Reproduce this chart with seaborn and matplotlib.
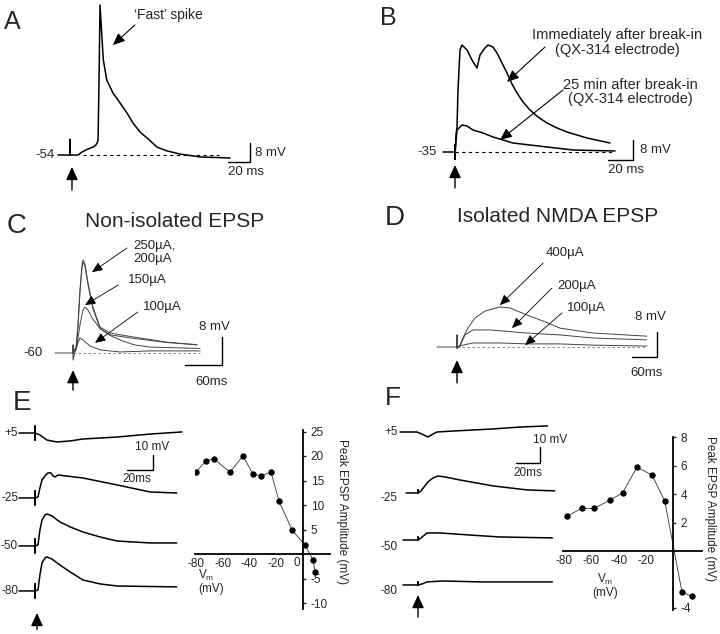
import matplotlib
matplotlib.use("Agg")
import matplotlib.pyplot as plt
import seaborn as sns

# ------------------------------------------------------------------
# Data: time (ms) and voltage (mV) relative to baseline
# A - fast spike
a_t = [-11, 0, 0, 0, 7.3, 10.9, 16.4, 20.9, 23.6, 25, 25.5, 26.4, 27.3, 28.8, 30.3, 33.4,
       39.1, 45.5, 51.8, 57.3, 63.6, 70, 79.1, 88.2, 100, 118, 145.5]
a_v = [0, 0, 6.5, 0, 0, 1.25, 2.5, 3.3, 4.2, 5.4, 6.3, 31.3, 62.5, 50.8, 39.6, 31.3,
       25.8, 21.7, 17.5, 13.3, 9.6, 7.1, 3.3, 1.7, 0.4, -0.8, -1.25]

# B - QX-314, immediately after and 25 min after break-in
b_now_t = [-9.6, 0, 0, 0, 0.8, 1.6, 2.4, 4, 5.6, 9.6, 13.6, 17.6, 20, 24, 26.4, 30.4, 33.6,
           37.6, 41.6, 45.6, 49.6, 54.4, 60, 66.4, 73.6, 81.6, 89.6, 105.6, 124]
b_now_v = [0, 0, 3, -3, 6.8, 10, 24.8, 40.8, 42.8, 40.8, 36.8, 33.6, 38.8, 41.6, 42.8, 42, 39.6,
           35.6, 31.6, 27.2, 23.6, 20, 16.8, 14, 11.6, 9.6, 8, 5.6, 3.6]
b_25_t = [0, 1.6, 5.6, 9.6, 14.4, 22.4, 30.4, 38.4, 46.4, 60, 73.6, 94.4, 128]
b_25_v = [0, 8.8, 10.8, 10.4, 8.8, 7.6, 6, 4.8, 3.6, 2.8, 2, 0.8, 0.4]

# C - non-isolated EPSP
c250_t = [-29.2, 0, 0, 0, 4.9, 8.1, 11.3, 14.6, 16.2, 19.4, 24.3, 32.4, 43.8, 60, 97.2, 152, 201]
c250_v = [0, 0, 2.3, -2, 1.4, 8, 18, 25.1, 26.6, 25.4, 20, 13.1, 7.4, 5.7, 4.6, 3.1, 2.3]
c200_t = [0, 4.9, 8.1, 11.3, 14.6, 16.2, 19.4, 24.3, 32.4, 43.8, 60, 97.2, 152, 201]
c200_v = [0, 1.3, 7.6, 17.3, 24.4, 25.9, 24.8, 19.6, 12.6, 7, 5.2, 4.2, 3.0, 2.4]
c150_t = [0, 6.5, 11.3, 16.2, 19.4, 24.3, 30.8, 43.8, 60, 81, 100, 125, 206]
c150_v = [0, 2.3, 8, 12.3, 13.1, 12.3, 10, 7.0, 5.0, 3.4, 2.3, 1.7, 1.3]
c100_t = [0, 4.9, 8.1, 11.3, 16.2, 27.5, 43.8, 76, 125, 206]
c100_v = [0, 0.9, 2.9, 4.3, 3.7, 2, 0.9, 0.3, 0.6, 0.6]

# D - isolated NMDA EPSP
d400_t = [-47.6, 0, 0, 0, 7, 14, 26, 43, 67, 102, 126, 167, 210, 245, 324, 452]
d400_v = [0, 0, 3.9, -0.6, 0.6, 2.9, 6.1, 9.4, 11.6, 12.9, 12.6, 10.3, 8.1, 6.1, 4.5, 3.5]
d200_t = [0, 7, 19, 38, 79, 167, 245, 324, 452]
d200_v = [0, 0.3, 3.9, 5.5, 5.5, 4.5, 3.9, 2.9, 2.3]
d100_t = [0, 14, 38, 102, 167, 245, 324, 452]
d100_v = [0, 0.6, 1.3, 1.3, 1.0, 1.0, 0.6, 0.3]

# E - non-isolated EPSP at different holding potentials
e_rows = ["+5", "-25", "-50", "-80"]
e_t = [
    [-12.3, 0, 0, 0, 0, 3.8, 9.2, 16.9, 26.9, 36.9, 63, 88.5, 113],
    [-12.3, 0, 0, 0, 0, 2.3, 3.8, 5.4, 7.7, 10, 12.3, 13.8, 15.4, 17.7, 36.9, 63, 88.5, 109],
    [-12.3, 0, 0, 0, 0, 2.3, 3.8, 5.4, 7.7, 9.2, 13, 19.2, 27, 36.9, 50, 63, 88.5, 109],
    [-12.3, 0, 0, 0, 0, 2.3, 3.8, 5.4, 7.7, 9.2, 13, 19.2, 27, 36.9, 50, 63, 109],
]
e_v = [
    [0, 0, 4.7, -4.7, 0, -1.3, -4.7, -6, -5.3, -4, -2.7, -0.7, 0.7],
    [0, 0, 4.7, -4.7, 0, 0.7, 6.7, 12, 14.7, 16.7, 16.7, 14.7, 14, 15.3, 13.3, 8.7, 4, 3.3],
    [0, 0, 4.7, -4.7, 0, 0.7, 10.7, 17.3, 20.7, 21.3, 20, 16, 12.7, 9.3, 6, 3.3, 2, 2],
    [0, 0, 4.7, -4.7, 0, 0.7, 10.7, 18.7, 22, 22.7, 21.3, 17.3, 12.7, 7.3, 4.7, 3.3, 2.7],
]
e_iv_vm = [-80, -72.4, -66.4, -54.5, -44.8, -37.3, -31.3, -23.9, -17.9, -8.2, 1.5, 7.5, 9]
e_iv_amp = [16.7, 19.0, 19.4, 16.7, 20.0, 16.3, 15.9, 16.7, 10.8, 4.9, 1.8, -1.2, -3.7]

# F - isolated NMDA EPSP at different holding potentials
f_rows = ["+5", "-25", "-50", "-80"]
f_t = [
    [-15, -0.8, 3.3, 8.3, 12.5, 15.8, 29, 62.5, 85, 108],
    [-10, 0, 0, 0, 2.5, 8.3, 12.5, 16.7, 22.5, 35, 62.5, 90.8, 114],
    [-12.5, 0, 0, 0, 2.5, 7.5, 18.3, 43.3, 68, 112],
    [-12.5, 0, 0, 0, 3.3, 7.5, 20.8, 51.7, 112],
]
f_v = [
    [0, 0, -1.3, -3.1, -1.3, 0, 0.6, 1.9, 3.1, 3.8],
    [0, 0, 1.9, 0, 1.3, 6.9, 9.4, 10.6, 10, 8.1, 4.4, 1.9, 1.3],
    [0, 0, 1.9, 0, 1.3, 4.4, 4.4, 3.1, 1.9, 1.3],
    [0, 0, 1.9, 0, 0.6, 1.9, 2.5, 1.9, 1.9],
]
f_iv_vm = [-78, -67, -58, -46, -37, -26.5, -15.4, -6, 6.6, 14]
f_iv_amp = [2.46, 3.0, 3.0, 3.6, 4.1, 5.9, 5.35, 3.5, -2.9, -3.2]

# ------------------------------------------------------------------
sns.set_style("white")
plt.rcParams["font.family"] = ["Liberation Sans", "DejaVu Sans"]
plt.rcParams["axes.unicode_minus"] = False
plt.rcParams["mathtext.fontset"] = "custom"
plt.rcParams["mathtext.rm"] = "Liberation Sans"

W, H = 720, 634
fig = plt.figure(figsize=(W / 100, H / 100), dpi=100)


def fig_text(x, y, s, **kw):
    fig.text(x / W, 1 - y / H, s, **kw)


def trace_axes(ox, oy, sx, sy):
    # transparent axes over the whole figure, stim at (ox, oy) px, sx px/ms, sy px/mV
    ax = fig.add_axes([0, 0, 1, 1], facecolor="none")
    ax.set_xlim(-ox / sx, (W - ox) / sx)
    ax.set_ylim((oy - H) / sy, oy / sy)
    ax.axis("off")
    return ax


def trace(ax, t, v, dv=0, color="black", lw=1.0):
    sns.lineplot(x=t, y=[y + dv for y in v], sort=False, estimator=None,
                 color=color, lw=lw, ax=ax)


def scalebar(ax, x, y, dx, dy, lw=1.0):
    ax.plot([x - dx, x, x], [y, y, y + dy], color="black", lw=lw, solid_joinstyle="miter")


def arrow(ax, tail, head, lw=0.7, scale=9, hl=0.8, hw=0.35):
    ax.annotate("", xy=head, xytext=tail,
                arrowprops=dict(arrowstyle=f"-|>,head_length={hl},head_width={hw}",
                                color="black", lw=lw, shrinkA=0, shrinkB=0,
                                mutation_scale=scale))


def stim_arrow(ax, t, v0, v1):
    arrow(ax, (t, v0), (t, v1), lw=1.0, scale=12, hl=0.65, hw=0.3)


def baseline(ax, t0, t1, color="black", lw=0.8):
    ax.plot([t0, t1], [0, 0], color=color, lw=lw, ls=(0, (3, 3)))


fs_lab = 9.5

# ---------------- A ----------------
fig_text(4, 29, "A", fontsize=18, va="baseline")
ax = trace_axes(70, 155, 1.1, 2.4)
baseline(ax, 12, 135)
trace(ax, a_t, a_v, lw=1.1)
ax.text(-13.6, 0, "-54", ha="right", va="center", fontsize=fs_lab)
ax.text(89, 58.3, "\u2018Fast\u2019 spike", ha="center", va="center", fontsize=10)
arrow(ax, (59, 54.2), (39, 45.8), lw=0.8)
stim_arrow(ax, 1.8, -14.6, -5)
scalebar(ax, 164, -3, 20, 8)
ax.text(168, 0.8, "8 mV", ha="left", va="center", fontsize=fs_lab)
ax.text(143.6, -7.1, "20 ms", ha="left", va="center", fontsize=fs_lab)

# ---------------- B ----------------
fig_text(380, 25, "B", fontsize=18, va="baseline")
ax = trace_axes(455, 152, 1.25, 2.5)
baseline(ax, 0, 128)
trace(ax, b_now_t, b_now_v, lw=1.1)
trace(ax, b_25_t, b_25_v, lw=1.1)
ax.text(-14.4, 0, "-35", ha="right", va="center", fontsize=fs_lab)
ax.text(130, 43.8, "Immediately after break-in\n(QX-314 electrode)", ha="center",
        va="center", fontsize=10.5, linespacing=1.05)
ax.text(140, 24, "25 min after break-in\n(QX-314 electrode)", ha="center",
        va="center", fontsize=10.5, linespacing=1.05)
arrow(ax, (72, 42), (41.6, 28), lw=0.8)
arrow(ax, (86.4, 24.8), (36, 4.8), lw=0.8)
stim_arrow(ax, 0, -14.4, -5.2)
scalebar(ax, 142.4, -3.2, 20, 8)
ax.text(148, 0.8, "8 mV", ha="left", va="center", fontsize=fs_lab)
ax.text(122.4, -7.2, "20 ms", ha="left", va="center", fontsize=fs_lab)

# ---------------- C ----------------
fig_text(7, 233, "C", fontsize=20, va="baseline")
fig_text(175, 227, "Non-isolated EPSP", fontsize=15, ha="center", va="baseline")
ax = trace_axes(73, 353, 0.617, 3.5)
baseline(ax, 0, 206, color="#777777", lw=0.6)
for t, v in [(c250_t, c250_v), (c200_t, c200_v), (c150_t, c150_v), (c100_t, c100_v)]:
    trace(ax, t, v, color="#444444", lw=0.7)
ax.text(-48.6, 0, "-60", ha="right", va="center", fontsize=fs_lab)
ax.text(97, 28.7, "250\u00b5A,\n200\u00b5A", ha="left", va="center", fontsize=9.5,
        linespacing=1.05)
ax.text(89, 20.9, "150\u00b5A", ha="left", va="center", fontsize=9.5)
ax.text(113, 13.1, "100\u00b5A", ha="left", va="center", fontsize=9.5)
arrow(ax, (87.5, 30), (30.8, 23.1), lw=0.6, scale=8)
arrow(ax, (73, 19.4), (19.4, 13.7), lw=0.6, scale=8)
arrow(ax, (105, 11.7), (35.7, 2.9), lw=0.6, scale=8)
stim_arrow(ax, 0, -10.6, -4.9)
scalebar(ax, 241.5, -3.4, 60, 8)
ax.text(230, 7.4, "8 mV", ha="center", va="center", fontsize=fs_lab)
ax.text(225, -8.3, "60ms", ha="center", va="center", fontsize=fs_lab)

# ---------------- D ----------------
fig_text(385, 225, "D", fontsize=20, va="baseline")
fig_text(558, 222, "Isolated NMDA EPSP", fontsize=15, ha="center", va="baseline")
ax = trace_axes(457, 347, 0.42, 3.1)
baseline(ax, 0, 452, color="#777777", lw=0.6)
for t, v in [(d400_t, d400_v), (d200_t, d200_v), (d100_t, d100_v)]:
    trace(ax, t, v, color="#444444", lw=0.7)
ax.text(210, 30.3, "400\u00b5A", ha="left", va="center", fontsize=9.5)
ax.text(238, 19.7, "200\u00b5A", ha="left", va="center", fontsize=9.5)
ax.text(262, 12.6, "100\u00b5A", ha="left", va="center", fontsize=9.5)
arrow(ax, (205, 27.1), (102, 13.5), lw=0.6, scale=8)
arrow(ax, (226, 19), (131, 6.1), lw=0.6, scale=8)
arrow(ax, (250, 11), (162, 0.6), lw=0.6, scale=8)
stim_arrow(ax, 0, -11.6, -4.2)
scalebar(ax, 476, -3.2, 60, 8)
ax.text(460, 9.7, "8 mV", ha="center", va="center", fontsize=fs_lab)
ax.text(452, -8.4, "60ms", ha="center", va="center", fontsize=fs_lab)


# ---------------- IV plots ----------------
def iv_axes(x0, y0, sx, sy, xlim, ylim):
    left, right = x0 + xlim[0] * sx, x0 + xlim[1] * sx
    top, bottom = y0 - ylim[1] * sy, y0 - ylim[0] * sy
    ax = fig.add_axes([left / W, 1 - bottom / H, (right - left) / W, (bottom - top) / H],
                      facecolor="none")
    ax.set_xlim(xlim)
    ax.set_ylim(ylim)
    ax.spines["left"].set_visible(False)
    ax.spines["top"].set_visible(False)
    ax.spines["right"].set_position(("data", 0))
    ax.spines["bottom"].set_position(("data", 0))
    for s in ("right", "bottom"):
        ax.spines[s].set_linewidth(1.3)
        ax.spines[s].set_color("black")
    ax.yaxis.tick_right()
    ax.xaxis.tick_bottom()
    ax.tick_params(axis="y", length=2.5, width=1, pad=3, labelsize=8.5, direction="out")
    ax.tick_params(axis="x", length=0, pad=3, labelsize=8.5)
    ax.grid(False)
    return ax


# ---------------- E ----------------
fig_text(13, 410, "E", fontsize=20, va="baseline")
ax = trace_axes(35, 433, 1.3, 1.5)
e_off = [0, -43.3, -75.3, -105.3]
for lab, t, v, off in zip(e_rows, e_t, e_v, e_off):
    trace(ax, t, v, dv=off, lw=1.1)
    ax.text(-13, off, lab, ha="right", va="center", fontsize=8.5)
stim_arrow(ax, 1.5, -131, -120)
scalebar(ax, 90.8, -24.7, 20, 10)
ax.text(90, -9.3, "10 mV", ha="center", va="center", fontsize=8.5)
ax.text(78.5, -30.7, "20ms", ha="center", va="center", fontsize=8.5)

ax = iv_axes(303, 554, 1.34, 4.9, (-80.6, 20), (-11.3, 25.3))
sns.lineplot(x=e_iv_vm, y=e_iv_amp, sort=False, estimator=None, color="#333333", lw=0.6,
             marker="o", markersize=3.8, markeredgecolor="black", markerfacecolor="black",
             ax=ax)
ax.set_xticks([-80, -60, -40, -20])
ax.set_yticks([-10, -5, 5, 10, 15, 20, 25])
ax.text(-4.5, -1.9, "0", ha="center", va="center", fontsize=8.5)
ax.text(-78.4, -5.7, "V$_\\mathrm{m}$\n(mV)", ha="left", va="center", fontsize=8.5,
        linespacing=1.0)
ax.text(29.1, 8.6, "Peak EPSP Amplitude (mV)", rotation=270, ha="center", va="center",
        fontsize=8.5, clip_on=False)

# ---------------- F ----------------
fig_text(385, 405, "F", fontsize=19, va="baseline")
ax = trace_axes(418, 432, 1.2, 1.6)
f_off = [0, -38.1, -67.5, -95.6]
f_lab_drop = [0, -3.1, -4.4, -3.8]
for lab, t, v, off, drop in zip(f_rows, f_t, f_v, f_off, f_lab_drop):
    trace(ax, t, v, dv=off, lw=1.1)
    ax.text(-16.7, off + drop, lab, ha="right", va="center", fontsize=8.5)
stim_arrow(ax, 0, -115.6, -101.9)
scalebar(ax, 101.7, -19.4, 20, 10)
ax.text(110, -5, "10 mV", ha="center", va="center", fontsize=8.5)
ax.text(91.7, -25.6, "20ms", ha="center", va="center", fontsize=8.5)

ax = iv_axes(673, 551, 1.36, 14.2, (-80.9, 21.3), (-4.15, 8.05))
sns.lineplot(x=f_iv_vm, y=f_iv_amp, sort=False, estimator=None, color="#333333", lw=0.6,
             marker="o", markersize=3.8, markeredgecolor="black", markerfacecolor="black",
             ax=ax)
ax.set_xticks([-80, -60, -40, -20])
ax.set_yticks([-4, 2, 4, 6, 8])
ax.text(-50, -2.46, "V$_\\mathrm{m}$\n(mV)", ha="center", va="center", fontsize=8.5,
        linespacing=1.0)
ax.text(27.2, 3.0, "Peak EPSP Amplitude (mV)", rotation=270, ha="center", va="center",
        fontsize=8.5, clip_on=False)

fig.savefig("out.png", dpi=100, facecolor="white")
